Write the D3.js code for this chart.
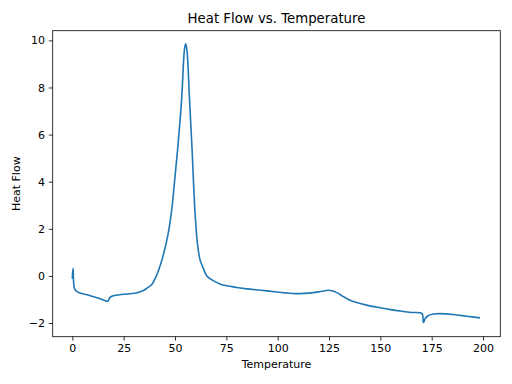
<html>
<head>
    <script src="https://d3js.org/d3.v7.min.js"></script>
    <style>
        body { margin: 0; background: #fff; }
        text { font-family: "DejaVu Sans", sans-serif; fill: #000; }
    </style>
</head>
<body>
    <div id="chart"></div>
    <script type="text/javascript">
        // values
        const temperature = [0, 0.35, 1.0, 2.1, 3.7, 8, 12, 16.6, 17.3, 18.3, 19.5, 23, 28, 32, 34.6, 36.5, 38.7, 41, 43, 44.5,
            46.7, 48.4, 49.7, 51.3, 53.3, 54.2, 54.7, 55.2, 55.7, 56.2, 57, 58.3, 59.2, 59.9, 60.9, 62.2, 63.8, 65.5, 68.6, 71.9, 75.2, 80,
            84.9, 92, 99.5, 104, 109, 113, 117.3, 121, 124.6, 126.5, 129, 132, 135, 138, 143.3, 149.8, 155, 159.6, 165, 170.3,
            170.9, 171.8, 173, 175.7, 179, 185.5, 192, 198.5];
        const heatFlow = [-0.12, 0.32, -0.52, -0.66, -0.73, -0.82, -0.93, -1.07, -1.08, -0.92, -0.85, -0.8, -0.76, -0.7, -0.62, -0.51, -0.36, 0.02, 0.5, 0.95,
            1.81, 2.8, 3.93, 5.4, 7.6, 9.15, 9.67, 9.85, 9.67, 9.15, 7.6, 5.4, 3.6, 2.5, 1.39, 0.68, 0.32, 0.0, -0.2, -0.34, -0.42, -0.49,
            -0.55, -0.61, -0.68, -0.72, -0.75, -0.74, -0.71, -0.66, -0.61, -0.63, -0.72, -0.88, -1.02, -1.12, -1.24, -1.35, -1.43, -1.49, -1.55, -1.6,
            -1.98, -1.82, -1.7, -1.62, -1.6, -1.64, -1.71, -1.78];
        const xTicks = [0, 25, 50, 75, 100, 125, 150, 175, 200];
        const yTicks = [-2, 0, 2, 4, 6, 8, 10];

        const data = temperature.map((t, i) => ({ t: t, h: heatFlow[i] }));

        const W = 512, H = 384;
        const mLeft = 52.7, mRight = 500.3, mTop = 30.7, mBottom = 336.7;

        const svg = d3.select('#chart').append('svg')
            .attr('width', W).attr('height', H);

        const x = d3.scaleLinear().domain([-9.55, 208.4]).range([mLeft, mRight]);
        const y = d3.scaleLinear().domain([-2.58, 10.41]).range([mBottom, mTop]);

        // axes
        const xAxis = svg.append('g')
            .attr('transform', `translate(0,${mBottom})`)
            .call(d3.axisBottom(x).tickValues(xTicks).tickSize(3.9).tickPadding(3.9).tickFormat(d3.format('d')));
        const yAxis = svg.append('g')
            .attr('transform', `translate(${mLeft},0)`)
            .call(d3.axisLeft(y).tickValues(yTicks).tickSize(3.9).tickPadding(3.9)
                .tickFormat(d => d < 0 ? '\u2212' + Math.abs(d) : d));

        [xAxis, yAxis].forEach(a => {
            a.select('.domain').remove();
            a.selectAll('line').attr('stroke', '#000').attr('stroke-width', 0.8);
            a.selectAll('text').style('font-size', '11px').style('font-family', '"DejaVu Sans", sans-serif');
        });

        // frame
        svg.append('rect')
            .attr('x', mLeft).attr('y', mTop)
            .attr('width', mRight - mLeft).attr('height', mBottom - mTop)
            .attr('fill', 'none').attr('stroke', '#000').attr('stroke-width', 0.8);

        // curve
        const line = d3.line()
            .x(d => x(d.t))
            .y(d => y(d.h))
            .curve(d3.curveCatmullRom.alpha(0.5));

        svg.append('path')
            .datum(data)
            .attr('d', line)
            .attr('fill', 'none')
            .attr('stroke', '#1f77b4')
            .attr('stroke-width', 1.6)
            .attr('stroke-linejoin', 'round');

        // labels
        svg.append('text')
            .attr('x', (mLeft + mRight) / 2).attr('y', 23)
            .attr('text-anchor', 'middle')
            .style('font-size', '13.3px')
            .text('Heat Flow vs. Temperature');

        svg.append('text')
            .attr('x', (mLeft + mRight) / 2).attr('y', 368)
            .attr('text-anchor', 'middle')
            .style('font-size', '11px')
            .text('Temperature');

        svg.append('text')
            .attr('transform', `translate(20,${(mTop + mBottom) / 2}) rotate(-90)`)
            .attr('text-anchor', 'middle')
            .style('font-size', '11px')
            .text('Heat Flow');
    </script>
</body>
</html>
